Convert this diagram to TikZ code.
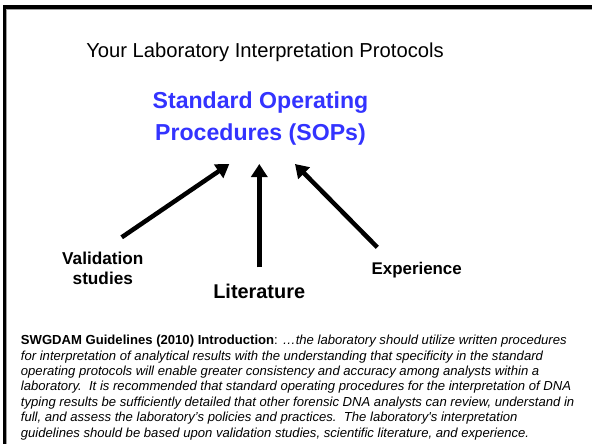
\documentclass[tikz,border=0pt]{standalone}
\usepackage{fontspec}
\setmainfont{Liberation Sans}
\usetikzlibrary{positioning,calc,arrows.meta}
\definecolor{SopBlue}{RGB}{51,51,255}
\definecolor{EdgeGray}{RGB}{160,160,160}
\tikzset{
  heading/.style={anchor=base,inner sep=0pt,font=\fontsize{20.2}{24}\selectfont},
  sop/.style={anchor=base,inner sep=0pt,align=center,text=SopBlue,
    font=\fontsize{23.1}{31.7}\selectfont\bfseries},
  source/.style={anchor=base,inner sep=0pt,align=center,
    font=\fontsize{17.2}{20}\selectfont\bfseries},
  feed/.style={draw=black,line width=4.5pt,-{Triangle[length=13pt,width=16pt]}},
  quote/.style={anchor=base west,inner sep=0pt,align=left,
    font=\fontsize{13.1}{15.4}\selectfont},
}

\begin{document}
\begin{tikzpicture}[x=1pt,y=-1pt]
  \useasboundingbox (0,0) rectangle (592,444);
  \fill[white] (0,0) rectangle (592,444);

  % slide frame
  \fill[black] (2.7,5) rectangle (592,9);
  \fill[black] (2.7,5) rectangle (6,444);
  \draw[EdgeGray,line width=1pt] (6,9.5) -- (592,9.5);
  \draw[EdgeGray,line width=1pt] (6.5,9) -- (6.5,444);

  \coordinate (t) at (265,57.3);
  \coordinate (s) at (260.5,140);
  \coordinate (vtail) at (121.7,237.3);
  \coordinate (vtip) at (229.3,164);
  \coordinate (ltail) at (259.3,267.3);
  \coordinate (ltip) at (259.3,164);
  \coordinate (etail) at (377.3,247.3);
  \coordinate (etip) at (295,164);

  \node[heading] (title) at (t) {Your Laboratory Interpretation Protocols};
  \node[sop] (sop) at (s) {Standard Operating\\Procedures (SOPs)};

  \draw[feed] (vtail) -- (vtip);
  \draw[feed] (ltail) -- (ltip);
  \draw[feed] (etail) -- (etip);

  % base of a two-line node is its last line
  \node[source] (valid) at (102.8,284) {Validation\\studies};
  \node[source,font=\fontsize{19.9}{24}\selectfont\bfseries] (lit) at (259.2,298.3) {Literature};
  \node[source,font=\fontsize{16.9}{20}\selectfont\bfseries] (exper) at (416.7,274) {Experience};

  \node[quote] (swgdam) at (20.7,437) {%
    \textbf{SWGDAM Guidelines (2010) Introduction}: \textit{…the laboratory should utilize written procedures}\\
    \textit{for interpretation of analytical results with the understanding that specificity in the standard}\\
    \textit{operating protocols will enable greater consistency and accuracy among analysts within a}\\
    \textit{laboratory.\ \ It is recommended that standard operating procedures for the interpretation of DNA}\\
    \textit{typing results be sufficiently detailed that other forensic DNA analysts can review, understand in}\\
    \textit{full, and assess the laboratory’s policies and practices.\ \ The laboratory\textquotesingle s interpretation}\\
    \textit{guidelines should be based upon validation studies, scientific literature, and experience.}};
\end{tikzpicture}
\end{document}
